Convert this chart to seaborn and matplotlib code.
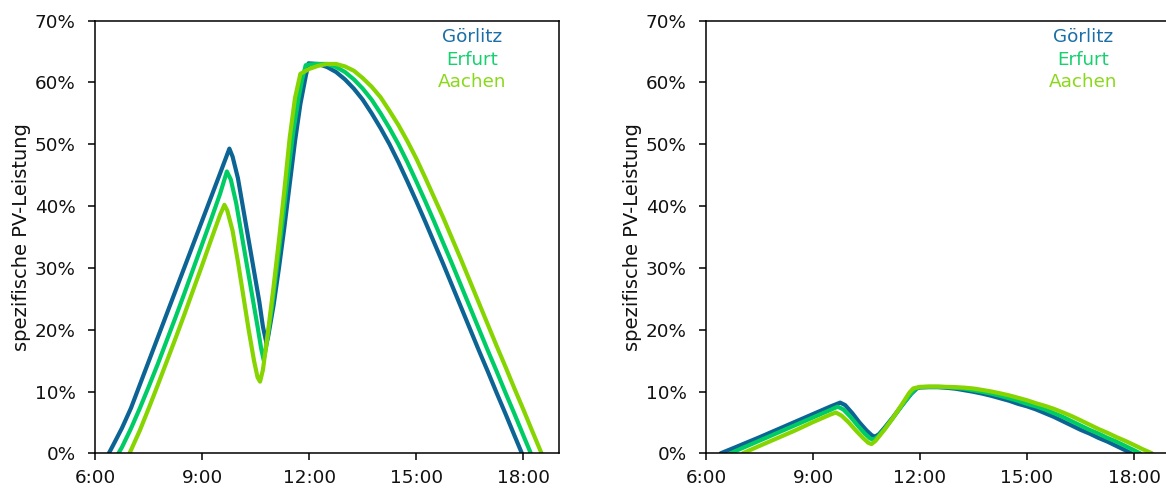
import matplotlib
matplotlib.use("Agg")
import matplotlib.pyplot as plt
import pandas as pd
import seaborn as sns
from matplotlib.ticker import FuncFormatter

# ---------------------------------------------------------------------------
# Daily course of specific PV output (percent), hour of day as decimal value
# ---------------------------------------------------------------------------
cities = ["Görlitz", "Erfurt", "Aachen"]
line_colors = ["#0B6494", "#00CC66", "#86D400"]
text_colors = ["#1A6FA6", "#14D06E", "#8AD81A"]

hour_ticks = [6, 9, 12, 15, 18]
hour_labels = ["6:00", "9:00", "12:00", "15:00", "18:00"]
pct_ticks = [0, 10, 20, 30, 40, 50, 60, 70]

# --- left panel -------------------------------------------------------------
t_goerlitz_a = [6.38, 6.5, 6.75, 7.0, 7.25, 7.5, 7.75, 8.0, 8.25, 8.5, 8.75,
                9.0, 9.25, 9.5, 9.76, 9.85, 10.0, 10.15, 10.3, 10.45, 10.6,
                10.7, 10.8, 10.85, 11.0, 11.15, 11.3, 11.45, 11.6, 11.75, 11.9,
                11.98, 12.25, 12.5, 12.75, 13.0, 13.25, 13.5, 13.75, 14.0,
                14.25, 14.5, 14.75, 15.0, 15.25, 15.5, 15.75, 16.0, 16.25,
                16.5, 16.75, 17.0, 17.25, 17.5, 17.75, 17.96]
v_goerlitz_a = [0.0, 1.3, 4.1, 7.3, 11.1, 14.9, 18.7, 22.5, 26.3, 30.1, 33.9,
                37.7, 41.5, 45.3, 49.3, 48.0, 44.5, 39.5, 34.5, 29.5, 24.5,
                20.5, 17.8, 19.0, 24.0, 30.0, 36.5, 43.5, 50.5, 56.5, 61.0,
                63.1, 63.0, 62.5, 61.7, 60.5, 59.0, 57.2, 55.0, 52.6,
                50.0, 47.1, 44.0, 40.8, 37.5, 34.1, 30.7, 27.2, 23.7,
                20.2, 16.7, 13.3, 9.8, 6.4, 2.9, 0.0]

t_erfurt_a = [6.65, 6.75, 7.0, 7.25, 7.5, 7.75, 8.0, 8.25, 8.5, 8.75, 9.0,
              9.25, 9.5, 9.69, 9.8, 9.95, 10.1, 10.25, 10.4, 10.55, 10.65,
              10.72, 10.8, 10.95, 11.1, 11.25, 11.4, 11.55, 11.7, 11.8, 11.9,
              12.0, 12.25, 12.5, 12.75, 13.0, 13.25, 13.5, 13.75, 14.0, 14.25,
              14.5, 14.75, 15.0, 15.25, 15.5, 15.75, 16.0, 16.25, 16.5, 16.75,
              17.0, 17.25, 17.5, 17.75, 18.0, 18.21]
v_erfurt_a = [0.0, 1.0, 4.0, 7.3, 10.8, 14.4, 18.2, 22.0, 25.9, 29.9, 33.9,
              37.9, 42.0, 45.6, 44.3, 40.5, 35.5, 30.5, 25.5, 20.5, 17.0,
              15.1, 17.5, 23.5, 30.5, 37.5, 45.0, 52.0, 57.5, 60.5, 62.8,
              62.9, 63.0, 63.0, 62.5, 61.7, 60.5, 59.0, 57.2, 55.0, 52.6,
              50.0, 47.1, 44.0, 40.8, 37.5, 34.1, 30.7, 27.2, 23.7, 20.2,
              16.7, 13.3, 9.8, 6.4, 2.9, 0.0]

t_aachen_a = [6.96, 7.0, 7.25, 7.5, 7.75, 8.0, 8.25, 8.5, 8.75, 9.0, 9.25,
              9.5, 9.62, 9.7, 9.85, 10.0, 10.15, 10.3, 10.45, 10.55, 10.62,
              10.7, 10.85, 11.0, 11.15, 11.3, 11.45, 11.6, 11.75, 12.0, 12.25,
              12.5, 12.75, 13.0, 13.25, 13.5, 13.75, 14.0, 14.25, 14.5, 14.75,
              15.0, 15.25, 15.5, 15.75, 16.0, 16.25, 16.5, 16.75, 17.0, 17.25,
              17.5, 17.75, 18.0, 18.25, 18.51]
v_aachen_a = [0.0, 0.5, 3.7, 7.3, 11.0, 14.8, 18.6, 22.5, 26.5, 30.5, 34.6,
              38.6, 40.2, 39.3, 36.0, 31.0, 25.5, 20.0, 15.0, 12.3, 11.6,
              13.5, 20.0, 27.0, 34.5, 42.5, 51.0, 57.5, 61.4, 62.2, 62.7,
              63.0, 63.0, 62.6, 61.9, 60.7, 59.3, 57.6, 55.4, 53.1, 50.5,
              47.7, 44.6, 41.4, 38.2, 34.8, 31.4, 27.9, 24.4, 20.9, 17.4,
              14.0, 10.5, 7.1, 3.6, 0.0]

# --- right panel ------------------------------------------------------------
t_goerlitz_b = [6.41, 6.75, 7.0, 7.5, 8.0, 8.5, 9.0, 9.5, 9.76, 9.9, 10.1,
                10.3, 10.5, 10.65, 10.74, 10.85, 11.0, 11.25, 11.5, 11.75,
                11.91, 12.0, 12.25, 12.5, 12.75, 13.0, 13.25, 13.5, 13.75,
                14.0, 14.25, 14.5, 14.75, 15.0, 15.25, 15.5, 15.75, 16.0,
                16.25, 16.5, 16.75, 17.0, 17.25, 17.5, 17.75, 17.92]
v_goerlitz_b = [0.0, 0.8, 1.4, 2.6, 3.85, 5.1, 6.35, 7.6, 8.2, 7.8, 6.5,
                5.0, 3.7, 2.9, 2.7, 3.1, 4.1, 5.9, 7.8, 9.6,
                10.5, 10.65, 10.7, 10.7, 10.6, 10.45, 10.2, 9.95, 9.65,
                9.3, 8.9, 8.5, 8.0, 7.6, 7.1, 6.5, 5.9, 5.2,
                4.5, 3.8, 3.2, 2.5, 1.9, 1.2, 0.5, 0.0]

t_erfurt_b = [6.69, 7.0, 7.5, 8.0, 8.5, 9.0, 9.5, 9.69, 9.85, 10.05, 10.25,
              10.45, 10.6, 10.69, 10.8, 11.0, 11.25, 11.5, 11.75, 11.88, 12.0,
              12.25, 12.5, 12.75, 13.0, 13.25, 13.5, 13.75, 14.0, 14.25, 14.5,
              14.75, 15.0, 15.25, 15.5, 15.75, 16.0, 16.25, 16.5, 16.75, 17.0,
              17.25, 17.5, 17.75, 18.0, 18.17]
v_erfurt_b = [0.0, 0.8, 2.05, 3.3, 4.55, 5.8, 7.05, 7.55, 7.1, 5.9, 4.5,
              3.2, 2.4, 2.2, 2.6, 3.9, 5.8, 7.8, 9.7, 10.5, 10.7,
              10.75, 10.75, 10.7, 10.6, 10.45, 10.2, 9.95, 9.65, 9.3, 8.9,
              8.5, 8.0, 7.6, 7.1, 6.5, 5.9, 5.2, 4.5, 3.8, 3.2,
              2.5, 1.9, 1.2, 0.5, 0.0]

t_aachen_b = [7.03, 7.5, 8.0, 8.5, 9.0, 9.5, 9.64, 9.8, 10.0, 10.2, 10.4,
              10.55, 10.64, 10.75, 11.0, 11.25, 11.5, 11.7, 11.81, 12.0, 12.25,
              12.5, 12.75, 13.0, 13.25, 13.5, 13.75, 14.0, 14.25, 14.5, 14.75,
              15.0, 15.25, 15.5, 15.75, 16.0, 16.25, 16.5, 16.75, 17.0, 17.25,
              17.5, 17.75, 18.0, 18.25, 18.5]
v_aachen_b = [0.0, 1.2, 2.45, 3.7, 5.05, 6.3, 6.6, 6.1, 5.0, 3.7, 2.5,
              1.7, 1.5, 2.0, 3.8, 5.8, 8.0, 9.8, 10.5, 10.75, 10.8,
              10.8, 10.75, 10.7, 10.62, 10.48, 10.25, 10.0, 9.7, 9.37, 8.98,
              8.58, 8.1, 7.68, 7.2, 6.62, 6.02, 5.34, 4.64, 3.94, 3.32,
              2.64, 2.02, 1.34, 0.64, 0.0]


def build_frame(series):
    parts = []
    for city, (t, v) in zip(cities, series):
        parts.append(pd.DataFrame({"hour": t, "pct": v, "city": city}))
    return pd.concat(parts, ignore_index=True)


panel_a = build_frame([(t_goerlitz_a, v_goerlitz_a),
                       (t_erfurt_a, v_erfurt_a),
                       (t_aachen_a, v_aachen_a)])
panel_b = build_frame([(t_goerlitz_b, v_goerlitz_b),
                       (t_erfurt_b, v_erfurt_b),
                       (t_aachen_b, v_aachen_b)])

sns.set_style("ticks")
plt.rcParams["font.family"] = ["DejaVu Sans"]
plt.rcParams["axes.edgecolor"] = "black"
plt.rcParams["axes.linewidth"] = 1.1

fig = plt.figure(figsize=(11.66, 4.88), dpi=100)
ax_a = fig.add_axes([0.0817, 0.0711, 0.3977, 0.8865])
ax_b = fig.add_axes([0.6055, 0.0711, 0.3977, 0.8865])

pct_fmt = FuncFormatter(lambda v, _: f"{v:.0f}%")

for ax, df in ((ax_a, panel_a), (ax_b, panel_b)):
    sns.lineplot(data=df, x="hour", y="pct", hue="city", hue_order=cities,
                 palette=line_colors, estimator=None, sort=False,
                 linewidth=3.0, legend=False, ax=ax)
    ax.set_xlim(6, 19)
    ax.set_ylim(0, 70)
    ax.set_xticks(hour_ticks)
    ax.set_xticklabels(hour_labels)
    ax.set_yticks(pct_ticks)
    ax.yaxis.set_major_formatter(pct_fmt)
    ax.tick_params(axis="both", direction="out", length=5, width=1.1,
                   color="black", labelsize=13.2, labelcolor="#111111")
    ax.tick_params(axis="y", pad=9)
    ax.tick_params(axis="x", pad=6)
    ax.set_xlabel("")
    ax.set_ylabel("spezifische PV-Leistung", fontsize=14,
                  color="#111111", labelpad=3)
    for spine in ax.spines.values():
        spine.set_visible(True)
        spine.set_color("black")
        spine.set_linewidth(1.1)
    for i, (name, col) in enumerate(zip(cities, text_colors)):
        ax.text(0.813, 0.962 - i * 0.052, name, transform=ax.transAxes,
                ha="center", va="center", fontsize=13.2, color=col)

fig.savefig("out.png", dpi=100)
